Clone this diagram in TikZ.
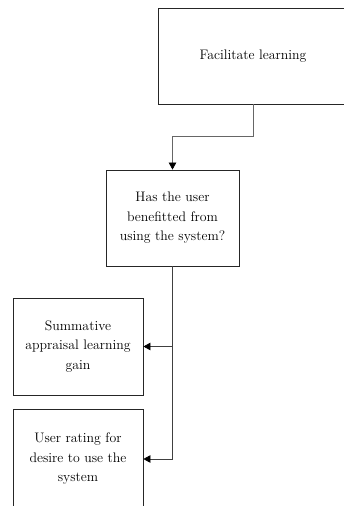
\documentclass[tikz,border=0pt]{standalone}
\usetikzlibrary{arrows.meta}
\begin{document}
\begin{tikzpicture}[x=1pt,y=-1pt,
  flowbox/.style={draw=black!85,line width=0.8pt,fill=white,align=center,
    inner sep=0pt,font=\fontsize{13.8}{19.5}\selectfont},
  link/.style={draw=black!60,line width=0.7pt,
    -{Triangle[length=7pt,width=7.5pt,fill=black,color=black]}}]
  \useasboundingbox (0,0) rectangle (344,506);
  \clip (0,0) rectangle (344,506);
  % boxes
  \node[flowbox,minimum width=190,minimum height=96]
    (goal) at (253,56) {Facilitate learning};
  \node[flowbox,minimum width=133,minimum height=96]
    (question) at (172.5,218) {Has the user\\ benefitted from\\ using the system?};
  \node[flowbox,minimum width=130,minimum height=97]
    (gain) at (78,346.5) {Summative\\ appraisal learning\\ gain};
  \node[flowbox,minimum width=130,minimum height=100]
    (rating) at (78,459) {User rating for\\ desire to use the\\ system};
  % connectors
  \draw[link] (goal.south) -- ++(0,32) -| (question.north);
  \draw[link,draw=black!75] (question.south) |- (gain.east);
  \draw[link,draw=black!75] (question.south) |- (rating.east);
\end{tikzpicture}
\end{document}
